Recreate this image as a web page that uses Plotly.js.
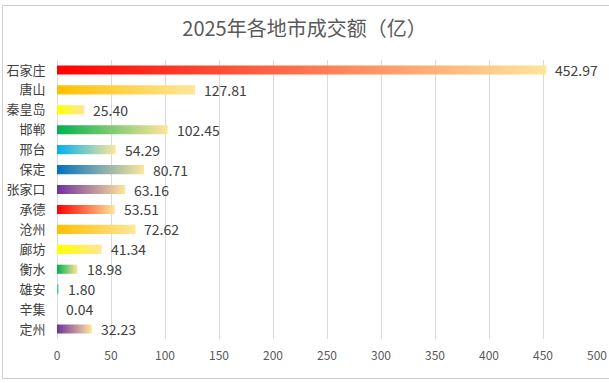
<!DOCTYPE html>
<html>
<head>
<meta charset="utf-8">
<script src="https://cdn.plot.ly/plotly-3.0.1.min.js"></script>
<style>
html,body{margin:0;padding:0;background:#fff;}
#wrap{position:relative;width:609px;height:383px;}
#chart{position:absolute;left:0;top:0;width:609px;height:383px;}
#frame{position:absolute;left:2px;top:5px;width:612px;height:372px;border:1px solid #D0D0D0;pointer-events:none;}
</style>
</head>
<body>
<div id="wrap"><div id="chart"></div><div id="frame"></div></div>
<script>
const categories = ["石家庄","唐山","秦皇岛","邯郸","邢台","保定","张家口","承德","沧州","廊坊","衡水","雄安","辛集","定州"];
const values = [452.97,127.81,25.40,102.45,54.29,80.71,63.16,53.51,72.62,41.34,18.98,1.80,0.04,32.23];
const startColors = ["#FF0000","#FFC000","#FFFF00","#00B050","#00B0F0","#0070C0","#7030A0","#FF0000","#FFC000","#FFFF00","#00B050","#00B0F0","#0070C0","#7030A0"];
const endColor = "#FFE699";
const xTicks = [0,50,100,150,200,250,300,350,400,450,500];

const halfH = 0.23;
const traces = [];
const annotations = [];
categories.forEach((c, i) => {
  const v = values[i];
  traces.push({
    type: "scatter",
    mode: "lines",
    x: [0, v, v, 0, 0],
    y: [i - halfH, i - halfH, i + halfH, i + halfH, i - halfH],
    fill: "toself",
    fillgradient: {type: "horizontal", colorscale: [[0, startColors[i]], [1, endColor]]},
    line: {width: 0, color: "rgba(0,0,0,0)"},
    hoverinfo: "skip",
    showlegend: false
  });
  annotations.push({
    x: v, y: i, xref: "x", yref: "y",
    text: v.toFixed(2), showarrow: false,
    xanchor: "left", yanchor: "middle", xshift: 7,
    font: {family: "Noto Sans CJK SC, sans-serif", size: 14, color: "#404040"}
  });
});

const layout = {
  width: 609, height: 383,
  paper_bgcolor: "#ffffff", plot_bgcolor: "#ffffff",
  margin: {l: 57, r: 12, t: 60, b: 44},
  title: {text: "2025年各地市成交额（亿）", x: 0.5, xanchor: "center", y: 0.925, yanchor: "middle",
          font: {family: "Noto Sans CJK SC, sans-serif", size: 20, color: "#595959"}},
  xaxis: {range: [0, 500], tickvals: xTicks, ticktext: xTicks.map(String),
          showgrid: true, gridcolor: "#D9D9D9", gridwidth: 1, zeroline: true, zerolinecolor: "#D9D9D9",
          showline: false, ticks: "outside", ticklen: 6, tickcolor: "rgba(0,0,0,0)",
          tickfont: {family: "Noto Sans CJK SC, sans-serif", size: 12, color: "#595959"}, fixedrange: true},
  yaxis: {range: [13.5, -0.5], tickvals: categories.map((c, i) => i), ticktext: categories,
          showgrid: false, zeroline: false, showline: false, ticks: "outside", ticklen: 8, tickcolor: "rgba(0,0,0,0)",
          tickfont: {family: "Noto Sans CJK SC, sans-serif", size: 13, color: "#404040"}, fixedrange: true},
  annotations: annotations,
  showlegend: false
};
Plotly.newPlot("chart", traces, layout, {displayModeBar: false, staticPlot: true});
</script>
</body>
</html>
